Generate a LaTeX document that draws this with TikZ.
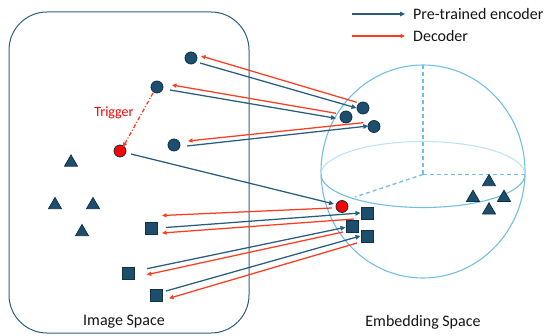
\documentclass[tikz,border=0pt]{standalone}
\usepackage{fontspec}
\setmainfont{Carlito}
\usepackage{tikz}
\usetikzlibrary{arrows.meta}
\usetikzlibrary{shapes.geometric}
\usetikzlibrary{positioning}

\definecolor{ptfill}{RGB}{29,78,110}
\definecolor{ptline}{RGB}{16,48,70}
\definecolor{encblue}{RGB}{40,92,125}
\definecolor{decred}{RGB}{255,60,30}
\definecolor{spherec}{RGB}{115,190,230}
\definecolor{framec}{RGB}{45,95,128}
\definecolor{txt}{RGB}{20,20,20}

\begin{document}
\begin{tikzpicture}[x=1pt,y=1pt,
    dot/.style={circle,fill=ptfill,draw=ptline,line width=0.8pt,minimum size=12pt,inner sep=0pt},
    reddot/.style={dot,fill=red},
    sq/.style={rectangle,fill=ptfill,draw=ptline,line width=0.8pt,minimum size=12pt,inner sep=0pt},
    tri/.style={regular polygon,regular polygon sides=3,fill=ptfill,draw=ptline,line width=0.8pt,minimum size=15pt,inner sep=0pt},
    enc/.style={encblue,line width=1.25pt,-{Triangle[length=5pt,width=4.5pt]}},
    dec/.style={decred,line width=1.25pt,-{Triangle[length=4.5pt,width=4pt]}},
    sphere/.style={spherec,line width=1.1pt},
    axis/.style={sphere,line width=1.3pt,dash pattern=on 4pt off 3pt},
    lbl/.style={text=txt,font=\fontsize{16}{19}\selectfont,inner sep=0pt},
  ]
  \useasboundingbox (0,0) rectangle (549,335);

  \coordinate (o) at (423,163.5);
  \coordinate (eq) at (423,160.5);
  \draw[sphere] (o) ellipse [x radius=102,y radius=106.5];
  \draw[sphere] (525,160.5) arc [start angle=0,end angle=-180,x radius=102,y radius=33];
  \draw[sphere,spherec!45] (525,160.5) arc [start angle=0,end angle=180,x radius=102,y radius=33];
  \draw[axis] (423,270) -- (eq);
  \draw[axis] (eq) -- (525,160.5);
  \draw[axis] (eq) -- (355,138);

  \draw[framec,line width=1pt,rounded corners=38pt] (9,2) rectangle (249,323);

  \node[dot] (c1) at (191,277) {};
  \node[dot] (c2) at (157,248) {};
  \node[dot] (c3) at (174,190) {};
  \node[reddot] (trig) at (120,184) {};
  \node[tri] (t1) at (71,172.5) {};
  \node[tri] (t2) at (55,130) {};
  \node[tri] (t3) at (93,130) {};
  \node[tri] (t4) at (82,103) {};
  \node[sq] (s1) at (151,107) {};
  \node[sq] (s2) at (128,62) {};
  \node[sq] (s3) at (156,40) {};

  \node[dot] (e1) at (363,227) {};
  \node[dot] (e2) at (346,218) {};
  \node[dot] (e3) at (374,208.5) {};
  \node[reddot] (etrig) at (342,128.5) {};
  \node[sq] (q1) at (367,122) {};
  \node[sq] (q2) at (352,109) {};
  \node[sq] (q3) at (367,99) {};
  \node[tri] (u1) at (489,153) {};
  \node[tri] (u2) at (473,137.3) {};
  \node[tri] (u3) at (504,137.3) {};
  \node[tri] (u4) at (489,124.7) {};

  \draw[enc] ([shift={(9,-5)}]c1.center) -- ([shift={(-6.5,0)}]e1.center);
  \draw[dec] ([shift={(-6.3,5.7)}]e1.center) -- ([shift={(10,2)}]c1.center);
  \draw[enc] ([shift={(13,-3)}]c2.center) -- ([shift={(-10,-1.3)}]e2.center);
  \draw[dec] ([shift={(-10,3.7)}]e2.center) -- ([shift={(15,2)}]c2.center);
  \draw[enc] ([shift={(13,-1)}]c3.center) -- ([shift={(-5.7,0.5)}]e3.center);
  \draw[dec] ([shift={(-10.7,3.8)}]e3.center) -- ([shift={(14,4)}]c3.center);
  \draw[enc] ([shift={(11,-3)}]trig.center) -- ([shift={(-8,2.5)}]etrig.center);
  \draw[dec] ([shift={(-10,-1.5)}]etrig.center) -- ([shift={(11,12.5)}]s1.center);
  \draw[enc] ([shift={(15,0.5)}]s1.center) -- ([shift={(-6.5,0)}]q1.center);
  \draw[dec] ([shift={(-13,-6)}]q1.center) -- ([shift={(11,-5)}]s1.center);
  \draw[enc] ([shift={(19,4.3)}]s2.center) -- ([shift={(-6.5,-1.3)}]q2.center);
  \draw[dec] ([shift={(-9,-6)}]q2.center) -- ([shift={(18.7,-1.7)}]s2.center);
  \draw[enc] ([shift={(10,4)}]s3.center) -- ([shift={(-6.5,0)}]q3.center);
  \draw[dec] ([shift={(-10,-7)}]q3.center) -- ([shift={(13,-3.3)}]s3.center);

  \draw[dec,line width=1.3pt,dash pattern=on 4pt off 2pt on 1pt off 2pt] ([shift={(-4,-6)}]c2.center) -- ([shift={(3,4)}]trig.center);
  \node[lbl,text=red,font=\fontsize{14}{16}\selectfont] (trglbl) at (114,222) {Trigger};

  \node[lbl] (imgspace) at (124,13) {Image Space};
  \node[lbl] (embspace) at (423,13) {Embedding Space};

  \node[lbl,anchor=west] (lenc) at (413,321) {Pre-trained encoder};
  \node[lbl,anchor=west] (ldec) at (413,299) {Decoder};
  \coordinate (lenc0) at (352,321);
  \coordinate (ldec0) at (352,299);
  \draw[enc] (lenc0) -- ([xshift=-8pt]lenc.west);
  \draw[dec] (ldec0) -- ([xshift=-8pt]ldec.west);
\end{tikzpicture}
\end{document}
